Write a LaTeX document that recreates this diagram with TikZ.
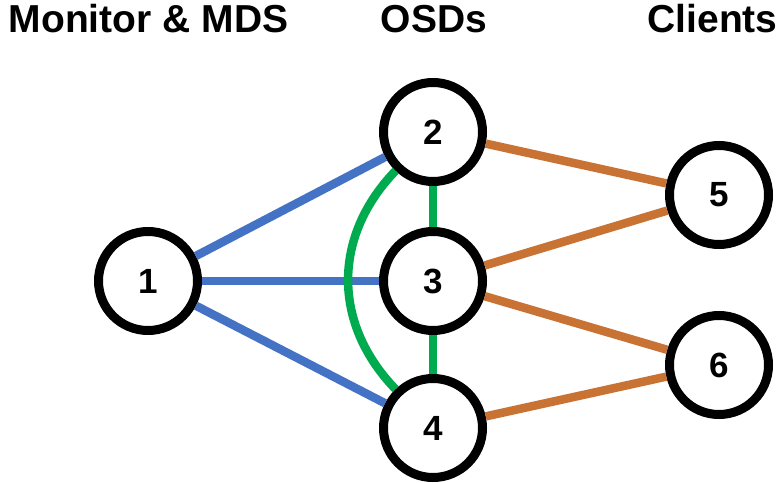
\documentclass[tikz,border=0pt]{standalone}
\usepackage{fontspec}
\setmainfont{Liberation Sans}
\usetikzlibrary{calc}
\definecolor{linkblue}{RGB}{68,114,196}
\definecolor{linkgreen}{RGB}{0,170,78}
\definecolor{linkorange}{RGB}{200,114,52}
\begin{document}
\begin{tikzpicture}[x=1pt,y=1pt,
  vertex/.style={circle,draw=black,line width=9pt,fill=white,minimum size=99pt,inner sep=0pt,
    font=\fontsize{35}{38}\selectfont\bfseries},
  header/.style={anchor=base,font=\fontsize{39}{42}\selectfont\bfseries},
  edge/.style={line width=8.5pt},
  mon/.style={edge,draw=linkblue},
  peer/.style={edge,draw=linkgreen},
  cli/.style={edge,draw=linkorange}]
\useasboundingbox (0,0) rectangle (783,482);
% column headers
\node[header] (hmon) at (148.5,449) {Monitor \& MDS};
\node[header] (hosd) at (434,449) {OSDs};
\node[header] (hcli) at (712.5,449) {Clients};
% nodes
\node[vertex] (n1) at (148,201) {1};
\node[vertex] (n2) at (433,350) {2};
\node[vertex] (n3) at (433,201) {3};
\node[vertex] (n4) at (433,54) {4};
\node[vertex] (n5) at (719,287) {5};
\node[vertex] (n6) at (719,117) {6};
% monitor links
\draw[mon] (n1) -- (n2);
\draw[mon] (n1) -- (n3);
\draw[mon] (n1) -- (n4);
% links between OSDs
\draw[peer] (n2) -- (n3);
\draw[peer] (n3) -- (n4);
\draw[peer] (n2) .. controls ($(n2)+(226:145pt)$) and ($(n4)+(134:145pt)$) .. (n4);
% client links
\draw[cli] (n2) -- (n5);
\draw[cli] (n3) -- (n5);
\draw[cli] (n3) -- (n6);
\draw[cli] (n4) -- (n6);
\end{tikzpicture}
\end{document}
